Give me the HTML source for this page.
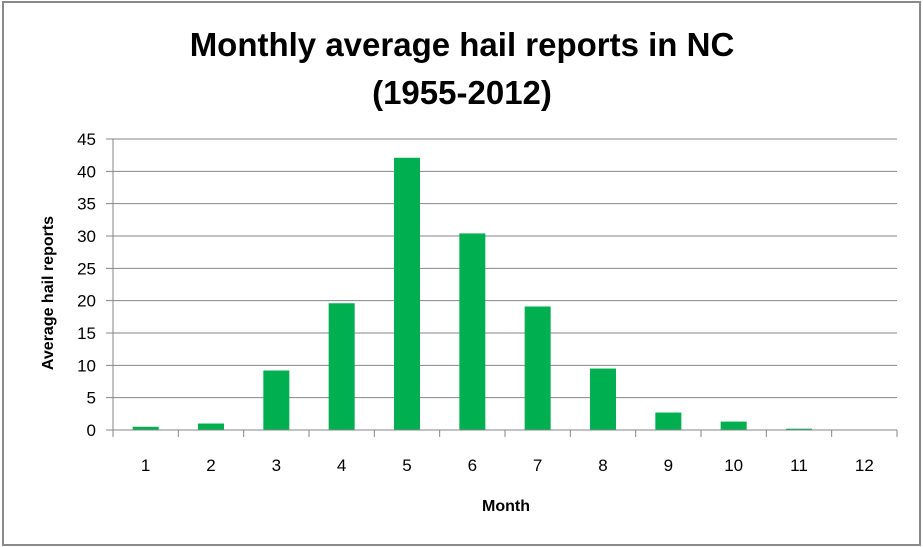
<!DOCTYPE html>
<html><head><meta charset="utf-8"><style>
body{margin:0;background:#fff;width:923px;height:547px;overflow:hidden}
svg{display:block;font-family:"Liberation Sans",sans-serif}
</style></head><body>
<svg id="chart" width="923" height="547">
<rect x="3" y="2" width="917" height="543" fill="#fff" stroke="#8a8a8a" stroke-width="2"/>
<text x="462" y="56" text-anchor="middle" font-size="33" font-weight="bold">Monthly average hail reports in NC</text>
<text x="462" y="104" text-anchor="middle" font-size="33" font-weight="bold">(1955-2012)</text>
<text transform="translate(53,293) rotate(-90)" text-anchor="middle" font-size="16" font-weight="bold">Average hail reports</text>
<text x="506" y="511" text-anchor="middle" font-size="16" font-weight="bold">Month</text>
<g id="grid"></g><g id="bars"></g><g id="axes"></g>
</svg>
<script>
const categories=["1","2","3","4","5","6","7","8","9","10","11","12"];
const values=[0.5,1.0,9.2,19.6,42.1,30.4,19.1,9.5,2.7,1.3,0.2,0];
const yTicks=[0,5,10,15,20,25,30,35,40,45];
const NS="http://www.w3.org/2000/svg";
const x0=113,x1=897,yb=430,yt=139,ymax=45;
const band=(x1-x0)/categories.length;
const y=v=>yb-(v/ymax)*(yb-yt);
const xc=i=>x0+band*(i+0.5);
function mk(t,a,p){const e=document.createElementNS(NS,t);for(const k in a)e.setAttribute(k,a[k]);p.appendChild(e);return e;}
const grid=document.getElementById('grid'),bars=document.getElementById('bars'),axes=document.getElementById('axes');
yTicks.forEach(t=>{
  const l=mk('line',{x1:106,x2:x1,y1:y(t),y2:y(t),stroke:'#868686','stroke-width':1},grid);
  
  
  const tx=mk('text',{x:96,y:y(t)+6,'text-anchor':'end','font-size':17},grid);
  tx.textContent=t;
  
  
});
values.forEach((v,i)=>{
  const r=mk('rect',{x:xc(i)-13,y:y(v),width:26,height:yb-y(v),fill:'#00b050'},bars);
  
  
  const tx=mk('text',{x:xc(i),y:471,'text-anchor':'middle','font-size':17},axes);
  tx.textContent=categories[i];
  
  
});
const ya=mk('line',{x1:x0,x2:x0,y1:yt,y2:yb,stroke:'#868686'},axes);


const xa=mk('line',{x1:x0,x2:x1,y1:yb,y2:yb,stroke:'#868686'},axes);


for(let i=0;i<=categories.length;i++){
  const t=mk('line',{x1:x0+band*i,x2:x0+band*i,y1:yb,y2:yb+7,stroke:'#868686'},axes);
  
  
}
</script>
</body></html>
